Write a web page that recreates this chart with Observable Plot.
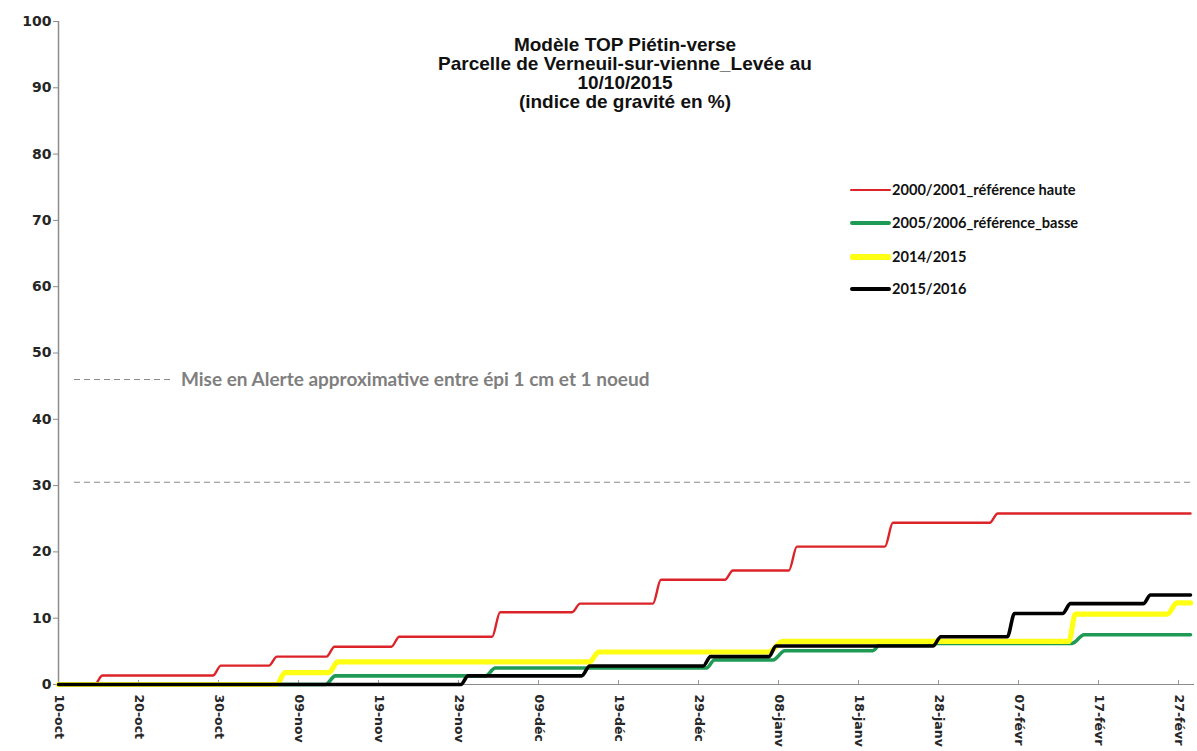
<!DOCTYPE html>
<html>
<head>
<meta charset="utf-8">
<script src="https://cdn.jsdelivr.net/npm/d3@7"></script>
<script src="https://cdn.jsdelivr.net/npm/@observablehq/plot@0.6"></script>
<style>
  html, body { margin: 0; padding: 0; background: #fff; overflow: hidden; }
  #wrap { position: relative; width: 1197px; height: 751px; overflow: hidden; }
  #title { position: absolute; left: 375px; width: 500px; top: 35px; text-align: center;
           font-family: "Liberation Sans", Arial, sans-serif; font-weight: bold; font-size: 19px;
           line-height: 19px; color: #111; }
  #legend { position: absolute; left: 850px; top: 180px; font-family: Lato, sans-serif;
            font-weight: bold; font-size: 14.6px; color: #111; }
  .row { position: absolute; left: 0; height: 20px; white-space: nowrap; }
  .swatch { position: absolute; left: 0; width: 41px; border-radius: 2px; }
  .lab { position: absolute; left: 42px; top: 0; line-height: 20px; }
</style>
</head>
<body>
<div id="wrap">
  <div id="chart"></div>
  <div id="title"></div>
  <div id="legend"></div>
</div>
<script>
// ---------- data ----------
const titleLines = ["Modèle TOP Piétin-verse", "Parcelle de Verneuil-sur-vienne_Levée au", "10/10/2015", "(indice de gravité en %)"];

// x = days since 10-oct-2015
const xTickDays = [0, 10, 20, 30, 40, 50, 60, 70, 80, 90, 100, 110, 120, 130, 140];
const xTickLabels = ["10-oct", "20-oct", "30-oct", "09-nov", "19-nov", "29-nov", "09-déc", "19-déc", "29-déc", "08-janv", "18-janv", "28-janv", "07-févr", "17-févr", "27-févr"];
const yTicks = [0, 10, 20, 30, 40, 50, 60, 70, 80, 90, 100];

const seriesNames = ["2000/2001_référence haute", "2005/2006_référence_basse", "2014/2015", "2015/2016"];
const seriesColors = ["#dc2328", "#1f9a55", "#ffff14", "#000000"];
const seriesWidths = [2.4, 3.6, 5.2, 3.6];

const redDays   = [0, 4.5, 5.5, 19.3, 20.3, 26.3, 27.3, 33.5, 34.5, 41.6, 42.6, 54.2, 55.2, 64.2, 65.2, 74.3, 75.3, 83.3, 84.3, 91.3, 92.3, 103.3, 104.3, 116.4, 117.4, 141.5];
const redValues = [0, 0, 1.35, 1.35, 2.85, 2.85, 4.2, 4.2, 5.7, 5.7, 7.2, 7.2, 10.9, 10.9, 12.2, 12.2, 15.8, 15.8, 17.2, 17.2, 20.8, 20.8, 24.4, 24.4, 25.8, 25.8];

const greenDays   = [0, 33.4, 34.6, 53.4, 54.6, 81, 82, 89.3, 90.8, 101.8, 102.8, 126.7, 128.2, 141.5];
const greenValues = [0, 0, 1.3, 1.3, 2.5, 2.5, 3.7, 3.7, 5.1, 5.1, 6.2, 6.2, 7.5, 7.5];

const yellowDays   = [0, 27.3, 28.3, 33.8, 34.9, 66.4, 67.5, 88.8, 90.5, 126.3, 127.1, 138.6, 139.8, 141.5];
const yellowValues = [0, 0, 1.8, 1.8, 3.4, 3.4, 4.9, 4.9, 6.5, 6.5, 10.6, 10.6, 12.3, 12.3];

const blackDays   = [0, 50.3, 51.2, 65.4, 66.4, 80.6, 81.5, 88.8, 89.7, 109.3, 110.3, 118.6, 119.5, 125.5, 126.5, 135.6, 136.5, 141.5];
const blackValues = [0, 0, 1.3, 1.3, 2.8, 2.8, 4.2, 4.2, 5.8, 5.8, 7.2, 7.2, 10.7, 10.7, 12.2, 12.2, 13.5, 13.5];

const thresholdValue = 30.5;
const thresholdSpan = [2, 141.5];
const alertValue = 46;
const alertDashSpan = [2, 14.5];
const alertTextDay = 15.3;
const alertText = "Mise en Alerte approximative entre épi 1 cm et 1 noeud";

// ---------- build tables ----------
const allDays = [redDays, greenDays, yellowDays, blackDays];
const allValues = [redValues, greenValues, yellowValues, blackValues];
const tables = allDays.map((days, s) => days.map((d, i) => ({day: d, value: allValues[s][i]})));

const lineMarks = tables.map((t, s) => Plot.line(t, {
  x: "day", y: "value", stroke: seriesColors[s], strokeWidth: seriesWidths[s],
  curve: "monotone-x", strokeLinecap: "round", strokeLinejoin: "round"
}));

const chart = Plot.plot({
  width: 1197,
  height: 751,
  marginTop: 21,
  marginBottom: 67,
  marginLeft: 58,
  marginRight: 3,
  style: {fontFamily: "DejaVu Sans", fontSize: "12.5px", fontWeight: "bold", color: "#262626", background: "#fff"},
  x: {domain: [0, 142], label: null},
  y: {domain: [0, 100], label: null},
  marks: [
    Plot.ruleY([0], {stroke: "#8c8c8c", strokeWidth: 1.2}),
    Plot.ruleX([0], {stroke: "#8c8c8c", strokeWidth: 1.5}),
    Plot.tickX(xTickDays, {x: d => d, insetTop: 659, stroke: "#9a9a9a"}),
    Plot.axisY({ticks: yTicks, tickSize: 5, tickPadding: 2, stroke: "#8c8c8c", fill: "#262626", fontSize: 14, label: null}),
    Plot.axisX({ticks: xTickDays, tickFormat: d => xTickLabels[xTickDays.indexOf(d)], tickRotate: 90, tickSize: 0, tickPadding: 10, fill: "#262626", fontSize: 12.5, label: null}),
    Plot.ruleY([thresholdValue], {x1: thresholdSpan[0], x2: thresholdSpan[1], stroke: "#8a8a8a", strokeWidth: 1.1, strokeDasharray: "6,4"}),
    Plot.ruleY([alertValue], {x1: alertDashSpan[0], x2: alertDashSpan[1], stroke: "#8a8a8a", strokeWidth: 1.1, strokeDasharray: "6,4"}),
    Plot.text([alertText], {x: alertTextDay, y: alertValue, text: d => d, textAnchor: "start", fill: "#7f7f7f",
      fontFamily: "Lato", fontSize: 19, fontWeight: "bold"}),
    ...lineMarks
  ]
});
document.getElementById("chart").appendChild(chart);

// title
const title = document.getElementById("title");
titleLines.forEach(t => { const div = document.createElement("div"); div.textContent = t; title.appendChild(div); });

// legend
const legend = document.getElementById("legend");
const rowTops = [0, 33, 67, 99];
seriesNames.forEach((name, i) => {
  const row = document.createElement("div");
  row.className = "row";
  row.style.top = rowTops[i] + "px";
  const sw = document.createElement("div");
  sw.className = "swatch";
  sw.style.background = seriesColors[i];
  sw.style.height = seriesWidths[i] + "px";
  sw.style.top = (10 - seriesWidths[i] / 2) + "px";
  const lab = document.createElement("div");
  lab.className = "lab";
  lab.textContent = name;
  row.appendChild(sw); row.appendChild(lab);
  legend.appendChild(row);
});
</script>
</body>
</html>
